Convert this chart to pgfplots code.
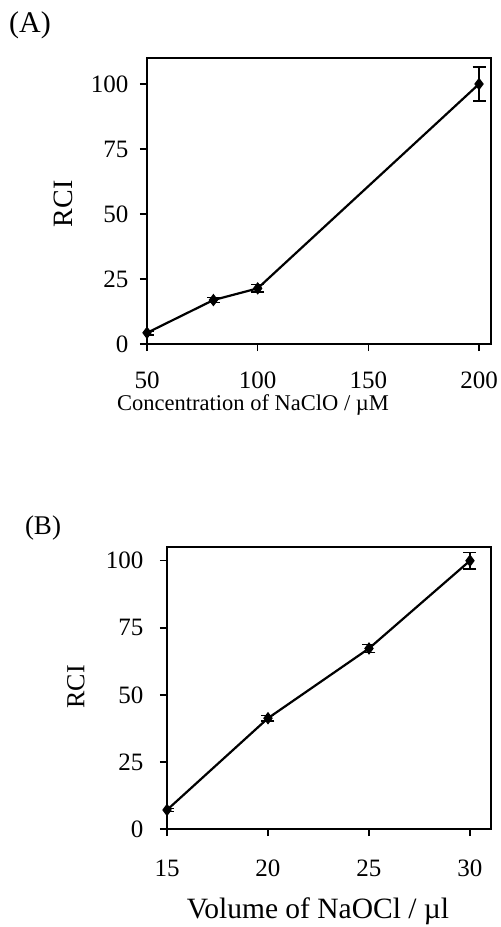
\documentclass[border=0pt]{standalone}
\usepackage{fontspec}
\setmainfont{Liberation Serif}
\usepackage{pgfplots}
\pgfplotsset{compat=1.18}
\begin{document}
\begin{tikzpicture}
\useasboundingbox (0pt,0pt) rectangle (501pt,-927pt);
\pgfplotsset{
  common/.style={
    scale only axis,
    axis line style={line width=1.6pt},
    every tick/.style={line width=1.6pt, black},
    major tick length=7pt,
    tick align=outside,
    xtick pos=bottom, ytick pos=left,
    /pgf/number format/assume math mode=true,
    ticklabel style={font=\fontsize{25}{30}\selectfont},
    ytick={0,25,50,75,100},
    ymin=0,
  },
  ser/.style={black, line width=2.2pt, mark=diamond*, mark size=5.5pt,
    mark options={fill=black, draw=black, line width=1pt},
    error bars/.cd, y dir=both, y explicit,
    error bar style={line width=1.6pt, black},
    error mark options={rotate=90, line width=1.6pt, mark size=6.5pt, black}},
}
\node at (30pt,-25pt) {\fontsize{30}{34}\selectfont (A)};
\node at (43pt,-528pt) {\fontsize{27}{32}\selectfont (B)};
\node at (253pt,-405pt) {\fontsize{22.5}{27}\selectfont Concentration of NaClO / µM};
\node[rotate=90] at (63pt,-204pt) {\fontsize{28}{33}\selectfont RCI};
\node at (318pt,-911pt) {\fontsize{29.5}{35}\selectfont Volume of NaOCl / µl};
\node[rotate=90] at (76pt,-687pt) {\fontsize{26}{31}\selectfont RCI};
\begin{axis}[common,
  at={(147pt,-344pt)}, anchor=south west,
  width=344pt, height=286pt,
  xmin=50, xmax=205.4, ymax=110,
  xtick={50,100,150,200},
  xticklabel style={yshift=-17pt},
  yticklabel style={xshift=-8pt},
]
\addplot[ser] coordinates {
  (50,4.3) +- (0,0.8)
  (80,16.9) +- (0,1.0)
  (100,21.4) +- (0,1.5)
  (200,100) +- (0,6.6)
};
\end{axis}
\begin{axis}[common,
  at={(167pt,-829pt)}, anchor=south west,
  width=324pt, height=282pt,
  xmin=15, xmax=31.04, ymax=105.1,
  xtick={15,20,25,30},
  xticklabel style={yshift=-20pt},
  yticklabel style={xshift=-13pt},
]
\addplot[ser] coordinates {
  (15,7.1) +- (0,0.5)
  (20,41.3) +- (0,1.0)
  (25,67.3) +- (0,1.5)
  (30,100) +- (0,3.0)
};
\end{axis}
\end{tikzpicture}
\end{document}
